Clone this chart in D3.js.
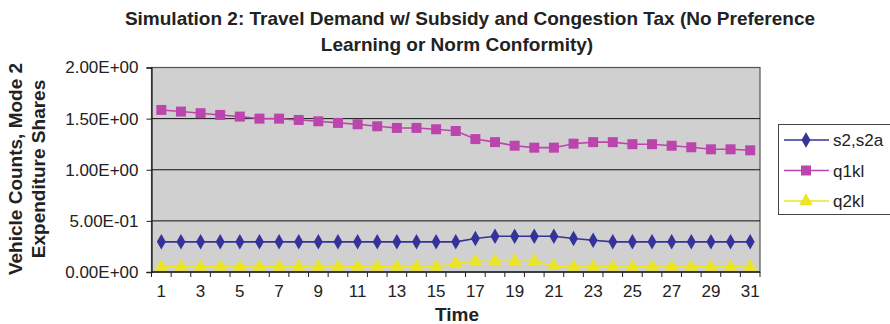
<!DOCTYPE html>
<html>
<head>
<meta charset="utf-8">
<script src="https://cdn.jsdelivr.net/npm/d3@7"></script>
<style>
  html, body { margin: 0; padding: 0; background: #fff; }
  svg { display: block; font-family: "Liberation Sans", Arial, sans-serif; }
</style>
</head>
<body>
<svg id="chart" width="890" height="324"></svg>
<script>
// Time steps 1..31
const periods = d3.range(1, 32);
// Series values per time step
const s2s2a = [0.295,0.295,0.295,0.295,0.295,0.295,0.295,0.295,0.295,0.295,
               0.295,0.295,0.295,0.295,0.295,0.295,0.327,0.35,0.35,0.35,
               0.35,0.327,0.31,0.295,0.295,0.295,0.295,0.295,0.295,0.295,0.295];
const q1kl = [1.585,1.569,1.553,1.536,1.52,1.50,1.50,1.487,1.474,1.458,
              1.445,1.425,1.409,1.409,1.396,1.379,1.30,1.27,1.235,1.216,
              1.216,1.255,1.27,1.27,1.25,1.25,1.235,1.22,1.20,1.20,1.19];
const q2kl = [0.05,0.05,0.05,0.05,0.05,0.05,0.05,0.05,0.05,0.05,
              0.05,0.05,0.05,0.05,0.05,0.085,0.105,0.105,0.105,0.105,
              0.06,0.05,0.05,0.05,0.05,0.05,0.05,0.05,0.05,0.05,0.05];
const yTicks = [0, 0.5, 1.0, 1.5, 2.0];
const yTickLabels = ["0.00E+00", "5.00E-01", "1.00E+00", "1.50E+00", "2.00E+00"];
const seriesNames = ["s2,s2a", "q1kl", "q2kl"];

const series = [
  { name: seriesNames[0], values: s2s2a, color: "#33339a", symbol: d3.symbolDiamond, size: 70 },
  { name: seriesNames[1], values: q1kl,  color: "#bb45ad", symbol: d3.symbolSquare,  size: 100 },
  { name: seriesNames[2], values: q2kl,  color: "#ebe525", symbol: d3.symbolTriangle, size: 80 }
];

const svg = d3.select("#chart");
const plot = { left: 151.5, right: 760, top: 67.5, bottom: 272 };
const tickFont = 17;

const x = d3.scaleBand().domain(periods).range([plot.left, plot.right]);
const xc = d => x(d) + x.bandwidth() / 2;
const y = d3.scaleLinear().domain([0, 2]).range([plot.bottom, plot.top]);

// Plot area background
svg.append("rect")
  .attr("x", plot.left).attr("y", plot.top)
  .attr("width", plot.right - plot.left).attr("height", plot.bottom - plot.top)
  .attr("fill", "#d0d0d0")
  .attr("stroke", "#555").attr("stroke-width", 1.2);

// Horizontal gridlines
svg.append("g").selectAll("line")
  .data(yTicks.filter(v => v > 0 && v < 2))
  .join("line")
  .attr("x1", plot.left).attr("x2", plot.right)
  .attr("y1", d => y(d)).attr("y2", d => y(d))
  .attr("stroke", "#111").attr("stroke-width", 1);

// Y axis
const yAxis = d3.axisLeft(y).tickValues(yTicks)
  .tickFormat((d, i) => yTickLabels[i]).tickSize(5).tickPadding(8);
const gy = svg.append("g").attr("transform", `translate(${plot.left},0)`).call(yAxis);
gy.select(".domain").attr("stroke", "#222").attr("stroke-width", 1.3);
gy.selectAll(".tick line").attr("stroke", "#222");
gy.selectAll(".tick text").attr("font-size", tickFont).attr("fill", "#222")
  .attr("font-family", "Liberation Sans, Arial, sans-serif");

// X axis: ticks at category boundaries, labels on odd periods
const boundaries = periods.map(p => x(p)).concat([plot.right]);
const gx = svg.append("g");
gx.append("line")
  .attr("x1", plot.left).attr("x2", plot.right)
  .attr("y1", plot.bottom).attr("y2", plot.bottom)
  .attr("stroke", "#222").attr("stroke-width", 1.3);
gx.selectAll("line.tk").data(boundaries).join("line").attr("class", "tk")
  .attr("x1", d => d).attr("x2", d => d)
  .attr("y1", plot.bottom).attr("y2", plot.bottom + 5)
  .attr("stroke", "#222");
gx.selectAll("text").data(periods.filter(p => p % 2 === 1)).join("text")
  .attr("x", d => xc(d)).attr("y", plot.bottom + 25)
  .attr("text-anchor", "middle").attr("font-size", tickFont).attr("fill", "#222")
  .text(d => d);

// Series lines and markers
const line = d3.line().x((d, i) => xc(periods[i])).y(d => y(d));
series.forEach(s => {
  svg.append("path").datum(s.values)
    .attr("d", line).attr("fill", "none")
    .attr("stroke", s.color).attr("stroke-width", 1.6);
  svg.append("g").selectAll("path").data(s.values).join("path")
    .attr("transform", (d, i) => `translate(${xc(periods[i])},${y(d)})`)
    .attr("d", d3.symbol().type(s.symbol).size(s.size))
    .attr("fill", s.color);
});

// Title
const title = svg.append("g").attr("font-weight", "bold").attr("font-size", 19)
  .attr("text-anchor", "middle").attr("fill", "#222");
title.append("text").attr("x", 470).attr("y", 25)
  .text("Simulation 2: Travel Demand w/ Subsidy and Congestion Tax (No Preference");
title.append("text").attr("x", 457).attr("y", 51)
  .text("Learning or Norm Conformity)");

// Axis titles
svg.append("text").attr("x", 457).attr("y", 321)
  .attr("text-anchor", "middle").attr("font-weight", "bold").attr("font-size", 19)
  .attr("fill", "#222").text("Time");
const yt = svg.append("g").attr("transform", "translate(0,169) rotate(-90)")
  .attr("font-weight", "bold").attr("font-size", 19).attr("fill", "#222")
  .attr("text-anchor", "middle");
yt.append("text").attr("x", 0).attr("y", 22).text("Vehicle Counts, Mode 2");
yt.append("text").attr("x", 0).attr("y", 45).text("Expenditure Shares");

// Legend
const lg = svg.append("g");
lg.append("rect").attr("x", 778.5).attr("y", 124.5)
  .attr("width", 120).attr("height", 90)
  .attr("fill", "#fff").attr("stroke", "#444").attr("stroke-width", 1);
series.forEach((s, i) => {
  const ly = 140 + i * 30.5;
  lg.append("line").attr("x1", 784).attr("x2", 829)
    .attr("y1", ly).attr("y2", ly).attr("stroke", s.color).attr("stroke-width", 1.6);
  lg.append("path").attr("transform", `translate(806,${ly})`)
    .attr("d", d3.symbol().type(s.symbol).size(s.size)).attr("fill", s.color);
  lg.append("text").attr("x", 833).attr("y", ly + 6)
    .attr("font-size", tickFont).attr("fill", "#222").text(s.name);
});
</script>
</body>
</html>
